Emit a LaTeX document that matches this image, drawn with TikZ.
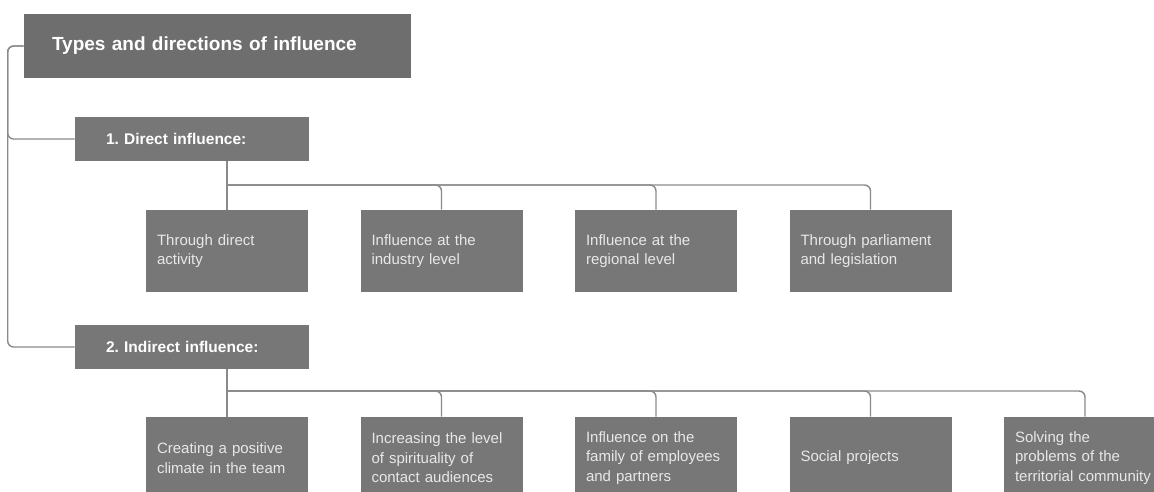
\documentclass[tikz,border=0pt]{standalone}
\usepackage{fontspec}
\setmainfont{Liberation Sans}
\frenchspacing
\definecolor{boxgray}{HTML}{777777}
\definecolor{headgray}{HTML}{6E6E6E}
\definecolor{linegray}{HTML}{8A8A8A}
\definecolor{boxtext}{HTML}{E8E8E8}

\begin{document}
\begin{tikzpicture}[x=1pt, y=-1pt, semithick]
  \tikzstyle{headbox}=[fill=headgray,text=white,minimum height=64pt,text width=331pt,inner xsep=28pt,align=left,font=\bfseries\fontsize{19}{23}\selectfont]
  \tikzstyle{groupbox}=[fill=boxgray,text=white,minimum height=44pt,text width=172pt,inner xsep=31pt,align=left,font=\bfseries\fontsize{15.5}{19}\selectfont]
  \tikzstyle{leafbox}=[fill=boxgray,text=boxtext,minimum height=82pt,text width=140pt,inner xsep=11pt,align=left,font=\fontsize{15}{19.5}\selectfont]
  \tikzstyle{link}=[draw=linegray,line width=1.4pt,rounded corners=6pt]

  \clip (0,0) rectangle (1154,491);

  \node[headbox]  (types)    at (217.5,46) {Types and directions of influence};
  \node[groupbox] (direct)   at (192,139)  {1. Direct influence:};
  \node[groupbox] (indirect) at (192,347)  {2. Indirect influence:};

  \node[leafbox] (d1) at (227,251)   {Through direct\\activity};
  \node[leafbox] (d2) at (441.5,251) {Influence at the\\industry level};
  \node[leafbox] (d3) at (656,251)   {Influence at the\\regional level};
  \node[leafbox] (d4) at (870.5,251) {Through parliament\\and legislation};

  \node[leafbox] (i1) at (227,458)   {Creating a positive\\climate in the team};
  \node[leafbox] (i2) at (441.5,458) {Increasing the level\\of spirituality of\\contact audiences};
  \node[leafbox] (i3) at (656,458)   {Influence on the\\family of employees\\and partners};
  \node[leafbox] (i4) at (870.5,458) {Social projects};
  \node[leafbox] (i5) at (1085,458)  {Solving the\\problems of the\\territorial community};

  \coordinate (dbus) at (227,185);
  \coordinate (ibus) at (227,391);

  \draw[link] (types.west) -- ++(-16,0) |- (direct.west);
  \draw[link] (types.west) -- ++(-16,0) |- (indirect.west);

  \draw[link] (direct.south -| d1.north) -- (d1.north);
  \draw[link] (dbus) -| (d2.north);
  \draw[link] (dbus) -| (d3.north);
  \draw[link] (dbus) -| (d4.north);

  \draw[link] (indirect.south -| i1.north) -- (i1.north);
  \draw[link] (ibus) -| (i2.north);
  \draw[link] (ibus) -| (i3.north);
  \draw[link] (ibus) -| (i4.north);
  \draw[link] (ibus) -| (i5.north);
\end{tikzpicture}
\end{document}
